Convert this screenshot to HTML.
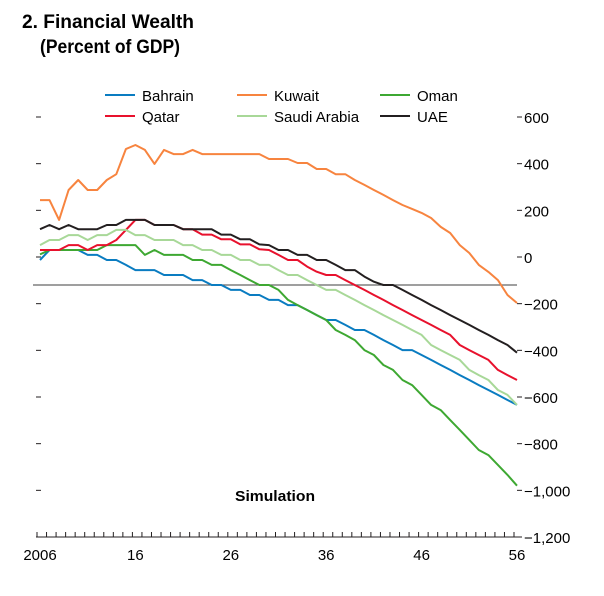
<!DOCTYPE html>
<html><head><meta charset="utf-8"><style>
body{margin:0;background:#fff}
svg{display:block;font-family:"Liberation Sans",sans-serif}
</style></head><body>
<svg id="chart" width="604" height="596" viewBox="0 0 604 596">
<text x="22" y="28" font-size="19" font-weight="bold" textLength="172" lengthAdjust="spacingAndGlyphs">2. Financial Wealth</text>
<text x="40" y="53" font-size="19" font-weight="bold" textLength="140" lengthAdjust="spacingAndGlyphs">(Percent of GDP)</text>
<g id="legend"></g>
<g id="axes"></g>
<g id="series"></g>
<text x="275" y="501" font-size="15" font-weight="bold" text-anchor="middle" textLength="80" lengthAdjust="spacingAndGlyphs">Simulation</text>
</svg>
<script>
const years = [];
for (let y = 2006; y <= 2056; y++) years.push(y);
const yTicks = [600,400,200,0,-200,-400,-600,-800,-1000,-1200];
const yTickLabels = ["600","400","200","0","\u2212200","\u2212400","\u2212600","\u2212800","\u22121,000","\u22121,200"];
const xTickLabels = ["2006","16","26","36","46","56"];
const xLabelYears = [2006,2016,2026,2036,2046,2056];
const refLine = -120;
const bahrain = [-13,30,30,30,30,9,9,-13,-13,-34,-56,-56,-56,-77,-77,-77,-99,-99,-120,-120,-141,-141,-163,-163,-184,-184,-206,-206,-227,-249,-270,-270,-291,-313,-313,-334,-356,-377,-399,-399,-420,-441,-463,-484,-506,-527,-549,-570,-591,-613,-634].slice(0,51);
const kuwait = [244,244,159,287,330,287,287,330,355,463,480,459,399,459,441,441,459,441,441,441,441,441,441,441,420,420,420,403,403,377,377,355,355,330,309,287,266,244,223,206,189,167,129,103,51,17,-34,-64,-99,-163,-197];
const oman = [11,30,30,30,30,30,30,51,51,51,51,9,30,9,9,9,-13,-13,-34,-34,-56,-77,-99,-120,-120,-141,-184,-206,-227,-249,-270,-313,-334,-356,-399,-420,-463,-484,-527,-549,-591,-634,-656,-699,-741,-784,-827,-849,-891,-934,-980];
const qatar = [30,30,30,51,51,30,51,51,73,116,159,159,137,137,137,119,119,96,96,76,76,54,54,33,30,9,-13,-13,-41,-63,-77,-77,-99,-120,-141,-163,-184,-206,-227,-249,-270,-291,-313,-334,-377,-399,-420,-441,-484,-506,-527];
const saudi = [51,73,73,94,94,73,94,94,116,116,94,94,73,73,73,51,51,30,30,9,9,-13,-13,-34,-34,-56,-77,-77,-99,-120,-141,-141,-163,-184,-206,-227,-249,-270,-291,-313,-334,-377,-399,-420,-441,-484,-506,-527,-570,-591,-634];
const uae = [119,137,119,137,119,119,119,137,137,159,159,159,137,137,137,119,119,119,119,96,96,76,76,54,51,30,30,9,9,-13,-13,-34,-56,-56,-84,-106,-120,-120,-141,-163,-184,-206,-227,-249,-270,-291,-313,-334,-356,-377,-410];
const seriesNames = ["Bahrain","Kuwait","Oman","Qatar","Saudi Arabia","UAE"];
const seriesData = [bahrain,kuwait,oman,qatar,saudi,uae];
const colors = ["#0a7cc1","#f7843f","#3ea832","#e8112d","#a8d898","#231f20"];

const NS = "http://www.w3.org/2000/svg";
const xS = yr => 40 + (yr - 2006) * (477 / 50);
const yS = v => 257 - v * (420 / 1800);
function mk(tag, attrs, parent, text){
  const e = document.createElementNS(NS, tag);
  for (const k in attrs) e.setAttribute(k, attrs[k]);
  if (text !== undefined) e.textContent = text;
  parent.appendChild(e); return e;
}
const axes = document.getElementById('axes');
yTicks.forEach((v,i)=>{
  const y = yS(v);
  if (v > -1200) {
    const l = mk('line',{x1:36,x2:41,y1:y,y2:y,stroke:'#231f20','stroke-width':1},axes);
    
    
  }
  const r = mk('line',{x1:517,x2:522,y1:y,y2:y,stroke:'#231f20','stroke-width':1},axes);
  
  
  const t = mk('text',{x:524,y:y+6,'font-size':15},axes,yTickLabels[i]);
  
  
});
const xa = mk('line',{x1:36,x2:518,y1:yS(-1200),y2:yS(-1200),stroke:'#231f20','stroke-width':1},axes);


years.forEach(yr=>{
  const x = xS(yr)-3;
  const t = mk('line',{x1:x,x2:x,y1:yS(-1200),y2:yS(-1200)-5,stroke:'#231f20','stroke-width':1},axes);
  
  
});
xLabelYears.forEach((yr,i)=>{
  const t = mk('text',{x:xS(yr),y:560,'font-size':15,'text-anchor':'middle'},axes,xTickLabels[i]);
  
  
});
const rl = mk('line',{x1:33,x2:517,y1:yS(refLine),y2:yS(refLine),stroke:'#666','stroke-width':1.2},axes);



const sg = document.getElementById('series');
seriesData.forEach((d,i)=>{
  const pts = d.map((v,j)=>xS(years[j]).toFixed(1)+','+yS(v).toFixed(1)).join(' ');
  const p = mk('polyline',{points:pts,fill:'none',stroke:colors[i],'stroke-width':2,'stroke-linejoin':'round'},sg);
  
  
});
const lg = document.getElementById('legend');
const legPos = [[105,95],[237,95],[380,95],[105,116],[237,116],[380,116]];
seriesNames.forEach((n,i)=>{
  const [x,y] = legPos[i];
  const l = mk('line',{x1:x,x2:x+30,y1:y,y2:y,stroke:colors[i],'stroke-width':2},lg);
  
  
  const t = mk('text',{x:x+37,y:y+6,'font-size':15},lg,n);
  
  
});
</script>
</body></html>
